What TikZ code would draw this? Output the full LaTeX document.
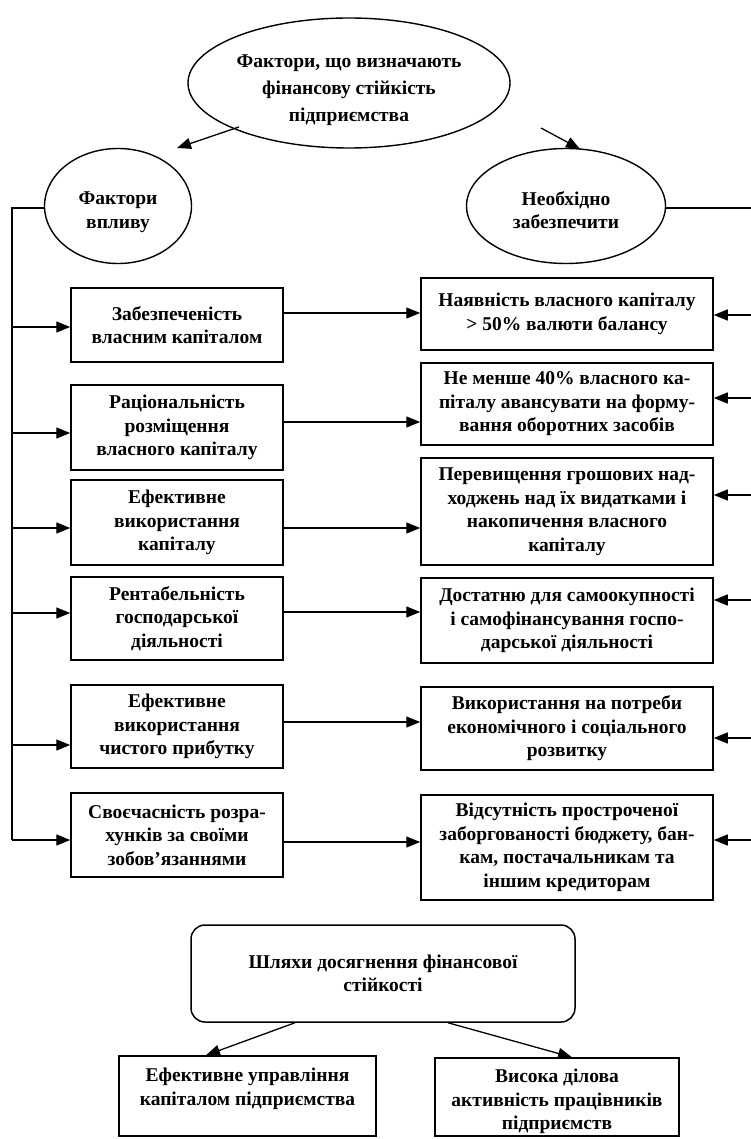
\documentclass[tikz,border=0pt]{standalone}
\usepackage{fontspec}
\setmainfont{Liberation Serif}
\usetikzlibrary{arrows.meta,shapes.geometric}
\begin{document}
\begin{tikzpicture}[x=1pt,y=-1pt,
  txt/.style={font=\bfseries\fontsize{19.5}{23.5}\selectfont, align=center},
  oval/.style={draw, ellipse, line width=1.4pt, inner sep=0pt},
  box/.style={draw, rectangle, line width=1.5pt, inner sep=0pt, txt},
  rbox/.style={draw, rectangle, rounded corners=14pt, line width=1.5pt, inner sep=0pt, txt},
  arr/.style={line width=1.3pt, -{Triangle[length=14pt,width=11pt]}},
  ln/.style={line width=1.3pt}]
\useasboundingbox (0,0) rectangle (751,1139);

% ellipses
\node[oval, minimum width=322pt, minimum height=130pt] (top) at (349,83) {};
\node[txt, inner sep=0pt, font=\bfseries\fontsize{19.5}{27}\selectfont] (topt) at (349,90)
  {Фактори, що визначають\\фінансову стійкість\\підприємства};
\node[oval, minimum width=147pt, minimum height=115pt] (fv) at (118,206) {};
\node[txt, inner sep=0pt] (fvt) at (118,212) {Фактори\\впливу};
\node[oval, minimum width=199pt, minimum height=115pt] (nz) at (566,206) {};
\node[txt, inner sep=0pt] (nzt) at (566,210) {Необхідно\\забезпечити};

% left boxes
\node[box, minimum width=212pt, minimum height=74pt] (l1) at (177,325)
  {Забезпеченість\\власним капіталом};
\node[box, minimum width=212pt, minimum height=85pt] (l2) at (177,427.5)
  {Раціональність\\розміщення\\власного капіталу};
\node[box, minimum width=212pt, minimum height=85pt] (l3) at (177,522.5)
  {Ефективне\\використання\\капіталу};
\node[box, minimum width=212pt, minimum height=83pt] (l4) at (177,618.5)
  {Рентабельність\\господарської\\діяльності};
\node[box, minimum width=212pt, minimum height=83pt] (l5) at (177,726.5)
  {Ефективне\\використання\\чистого прибутку};
\node[box, minimum width=212pt, minimum height=84pt] (l6) at (177,835)
  {Своєчасність розра-\\хунків за своїми\\зобов’язаннями};

% right boxes
\node[box, minimum width=292pt, minimum height=72pt] (r1) at (567,314)
  {Наявність власного капіталу\\> 50\% валюти балансу};
\node[box, minimum width=292pt, minimum height=82pt] (r2) at (567,404)
  {Не менше 40\% власного ка-\\піталу авансувати на форму-\\вання оборотних засобів};
\node[box, minimum width=292pt, minimum height=107pt] (r3) at (567,511.5)
  {Перевищення грошових над-\\ходжень над їх видатками і\\накопичення власного\\капіталу};
\node[box, minimum width=292pt, minimum height=85pt] (r4) at (567,620.5)
  {Достатню для самоокупності\\і самофінансування госпо-\\дарської діяльності};
\node[box, minimum width=292pt, minimum height=83pt] (r5) at (567,728.5)
  {Використання на потреби\\економічного і соціального\\розвитку};
\node[box, minimum width=292pt, minimum height=105pt] (r6) at (567,847.5)
  {Відсутність простроченої\\заборгованості бюджету, бан-\\кам, постачальникам та\\іншим кредиторам};

% bottom
\node[rbox, minimum width=384pt, minimum height=97pt] (sh) at (383,973.5)
  {Шляхи досягнення фінансової\\стійкості};
\node[box, minimum width=257pt, minimum height=80pt] (b1) at (247.5,1096) {};
\node[txt, anchor=north, inner sep=0pt] (b1t) at ([yshift=-13pt]b1.north)
  {Ефективне управління\\капіталом підприємства};
\node[box, minimum width=244pt, minimum height=78pt] (b2) at (557,1097) {};
\node[txt, anchor=north, inner sep=0pt] (b2t) at ([yshift=-12pt]b2.north)
  {Висока ділова\\активність працівників\\підприємств};

% connectors from top ellipse
\coordinate (ta) at (239,127);
\coordinate (tb) at (541,128);
\draw[arr] (ta) -- (177,148) coordinate (fa);
\draw[arr] (tb) -- (580,149) coordinate (na);

% left trunk
\coordinate (lt) at (12,208);
\coordinate (lb) at (12,840);
\draw[ln] (fv.west |- lt) -- (lt) -- (lb);
\foreach \n/\y in {l1/327, l2/433, l3/528, l4/613, l5/745, l6/840}
  \draw[arr] (12,\y) -- (\n.west |- {(0,\y)});

% right trunk
\draw[ln] (nz.east |- {(0,208)}) -- (751,208);
\foreach \n/\y in {r1/315, r2/398, r3/495, r4/600, r5/738, r6/840}
  \draw[arr] (751,\y) -- (\n.east |- {(0,\y)});

% left to right
\foreach \a/\b/\y in {l1/r1/313, l2/r2/422, l3/r3/528, l4/r4/612, l5/r5/722, l6/r6/842}
  \draw[arr] (\a.east |- {(0,\y)}) -- (\b.west |- {(0,\y)});

% bottom arrows
\draw[arr] (sh.south -| {(295,0)}) -- (b1.north -| {(206,0)});
\draw[arr] (sh.south -| {(448,0)}) -- (b2.north -| {(572,0)});
\end{tikzpicture}
\end{document}
